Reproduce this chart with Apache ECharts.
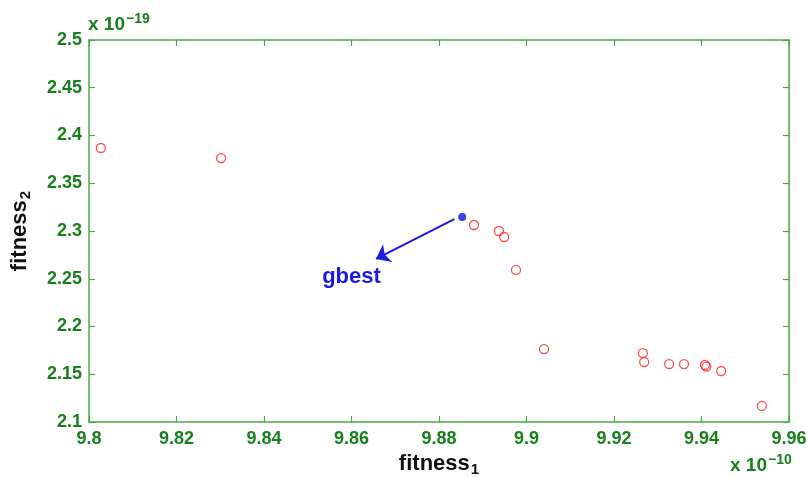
<!DOCTYPE html>
<html>
<head>
<meta charset="utf-8">
<script src="https://cdn.jsdelivr.net/npm/echarts@6/dist/echarts.min.js"></script>
<style>
  html, body { margin: 0; padding: 0; background: #fff; }
  #chart { width: 807px; height: 477px; }
</style>
</head>
<body>
<div id="chart"></div>
<script>
// 数据 (x 单位 1e-10, y 单位 1e-19)
const fitness1 = [9.8027, 9.8302, 9.8880, 9.8937, 9.8949, 9.8976, 9.9040, 9.9266, 9.9269, 9.9326, 9.9360, 9.9408, 9.9411, 9.9445, 9.9538];
const fitness2 = [2.3869, 2.3764, 2.3063, 2.3000, 2.2937, 2.2592, 2.1764, 2.1722, 2.1628, 2.1607, 2.1607, 2.1597, 2.1580, 2.1534, 2.1168];
const gbest = [9.8853, 2.3147];
const arrowFrom = [9.8835, 2.3125];
const arrowTo = [9.8656, 2.2707];
const gbestLabelAt = [9.8600, 2.2519];
const xTicks = [9.8, 9.96, 0.02];
const yTicks = [2.1, 2.5, 0.05];

const green = '#4aa84a';
const labelGreen = '#17801c';
const font = 'Liberation Sans, Arial, sans-serif';

const chart = echarts.init(document.getElementById('chart'));

const tickLabel = {
  color: labelGreen,
  fontFamily: font,
  fontWeight: 'bold',
  fontSize: 18
};

// 下标样式
const subStyle = { fontSize: 15, fontWeight: 'bold', fontFamily: font, color: '#111', verticalAlign: 'bottom', padding: [12, 0, 0, 1] };
// 指数上标
const supStyle = { fontSize: 14, fontWeight: 'bold', fontFamily: font, fill: labelGreen, verticalAlign: 'top', padding: [0, 0, 12, 1] };

function baseAxis(range) {
  return {
    type: 'value',
    min: range[0],
    max: range[1],
    interval: range[2],
    splitLine: { show: false },
    axisLine: { show: true, lineStyle: { color: green, width: 1.5 } },
    axisTick: { show: true, inside: true, length: 6, lineStyle: { color: green, width: 1.2 } }
  };
}

const option = {
  animation: false,
  backgroundColor: '#fff',
  grid: { left: 89, right: 18, top: 40, bottom: 55, containLabel: false, outerBoundsMode: 'none' },
  xAxis: [
    Object.assign(baseAxis(xTicks), {
      position: 'bottom',
      axisLabel: Object.assign({}, tickLabel, {
        margin: 8,
        formatter: v => String(+v.toFixed(2))
      }),
      name: 'fitness{s|1}',
      nameLocation: 'middle',
      nameGap: 28,
      nameTextStyle: {
        color: '#111',
        fontFamily: font,
        fontWeight: 'bold',
        fontSize: 22,
        rich: { s: subStyle }
      }
    }),
    Object.assign(baseAxis(xTicks), { position: 'top', axisLabel: { show: false } })
  ],
  yAxis: [
    Object.assign(baseAxis(yTicks), {
      position: 'left',
      axisLabel: Object.assign({}, tickLabel, {
        margin: 7,
        formatter: v => String(+v.toFixed(2))
      }),
      name: 'fitness{s|2}',
      nameLocation: 'middle',
      nameGap: 56,
      nameRotate: 90,
      nameTextStyle: {
        color: '#111',
        fontFamily: font,
        fontWeight: 'bold',
        fontSize: 22,
        rich: { s: subStyle }
      }
    }),
    Object.assign(baseAxis(yTicks), { position: 'right', axisLabel: { show: false } })
  ],
  graphic: [
    {
      type: 'text', left: 88, top: 12,
      style: {
        text: 'x 10{s|−19}',
        fill: labelGreen, font: 'bold 19px ' + font,
        rich: { s: supStyle }
      }
    },
    {
      type: 'text', left: 730, top: 453,
      style: {
        text: 'x 10{s|−10}',
        fill: labelGreen, font: 'bold 19px ' + font,
        rich: { s: supStyle }
      }
    }
  ],
  series: [
    {
      type: 'scatter',
      data: fitness1.map((x, i) => [x, fitness2[i]]),
      symbol: 'circle',
      symbolSize: 9,
      itemStyle: { color: 'rgba(0,0,0,0)', borderColor: '#ff2020', borderWidth: 1.3 },
      z: 3
    },
    {
      type: 'scatter',
      data: [gbest],
      symbol: 'circle',
      symbolSize: 8,
      itemStyle: { color: '#1010e8' },
      z: 4,
      markLine: {
        silent: true,
        symbol: ['none', 'arrow'],
        symbolSize: [15, 13],
        lineStyle: { color: '#1a1ae0', width: 2, type: 'solid' },
        label: { show: false },
        data: [[{ coord: arrowFrom }, { coord: arrowTo }]]
      },
      markPoint: {
        silent: true,
        symbol: 'circle',
        symbolSize: 0,
        label: {
          show: true,
          formatter: 'gbest',
          color: '#1a1ae0',
          fontFamily: font,
          fontWeight: 'bold',
          fontSize: 22,
          position: 'inside'
        },
        data: [{ coord: gbestLabelAt }]
      }
    }
  ]
};

chart.setOption(option);
</script>
</body>
</html>
